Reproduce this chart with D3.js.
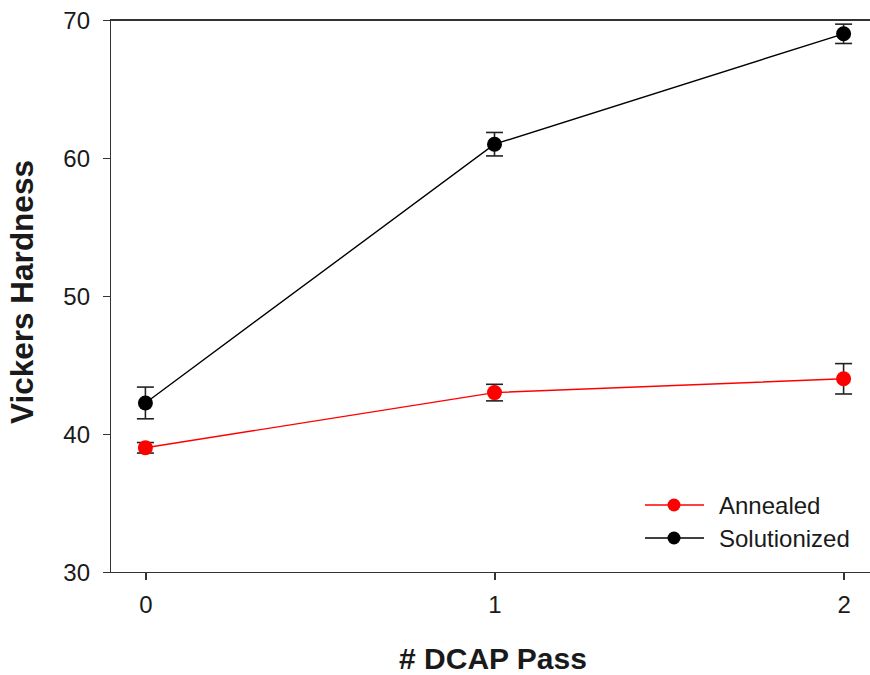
<!DOCTYPE html>
<html lang="en">
<head>
    <meta charset="UTF-8">
    <title>Vickers Hardness vs DCAP Pass</title>
    <script src="https://d3js.org/d3.v7.min.js"></script>
    <style>
        body { margin: 0; background: #fff; }
        text { font-family: "Liberation Sans", Arial, sans-serif; fill: #1a1a1a; }
        .axis path, .axis line { stroke: #333; stroke-width: 1.5px; shape-rendering: crispEdges; }
        .axis text { font-size: 24px; }
        .title { font-size: 30px; font-weight: bold; }
        .legend text { font-size: 24px; }
    </style>
</head>
<body>
<div id="chart"></div>
<script>
    // data
    var passes = [0, 1, 2];
    var seriesNames = ["Annealed", "Solutionized"];
    var annealedMean = [39.0, 43.0, 44.0];
    var annealedErr = [0.38, 0.6, 1.1];
    var solutionizedMean = [42.25, 61.0, 69.0];
    var solutionizedErr = [1.15, 0.85, 0.7];
    var xTicks = [0, 1, 2];
    var yTicks = [30, 40, 50, 60, 70];

    var W = 870, H = 675;
    var mLeft = 110, mTop = 20, mBottom = 572;

    var x = d3.scaleLinear().domain([-0.1, 2.1]).range([mLeft + 0.5, 878.5]);
    var y = d3.scaleLinear().domain([30, 70]).range([mBottom, mTop]);

    var clr = d3.scaleOrdinal().domain(seriesNames).range(["#ff0000", "#000000"]);

    var series = [
        { name: "Annealed", mean: annealedMean, err: annealedErr },
        { name: "Solutionized", mean: solutionizedMean, err: solutionizedErr }
    ].map(function (s) {
        return {
            name: s.name,
            values: passes.map(function (p, i) { return { pass: p, mean: s.mean[i], err: s.err[i] }; })
        };
    });

    var svg = d3.select("#chart").append("svg")
        .attr("width", W)
        .attr("height", H);

    // axes
    svg.append("g")
        .attr("class", "axis")
        .attr("transform", "translate(" + mLeft + ",0)")
        .call(d3.axisLeft(y).tickValues(yTicks).tickSize(7).tickSizeOuter(0).tickPadding(13))
        .selectAll("text").attr("dy", "0.36em");

    svg.append("g")
        .attr("class", "axis")
        .attr("transform", "translate(0," + mBottom + ")")
        .call(d3.axisBottom(x).tickValues(xTicks).tickSize(8).tickSizeOuter(0).tickPadding(16).tickFormat(d3.format("d")));

    // top frame line
    svg.append("line")
        .attr("x1", mLeft).attr("x2", x(2.1))
        .attr("y1", y(70)).attr("y2", y(70))
        .attr("stroke", "#333").attr("stroke-width", 1.5)
        .style("shape-rendering", "crispEdges");

    // titles
    svg.append("text")
        .attr("class", "title")
        .attr("x", 493).attr("y", 669)
        .attr("text-anchor", "middle")
        .text("# DCAP Pass");

    svg.append("text")
        .attr("class", "title")
        .attr("transform", "translate(33,292) rotate(-90)")
        .attr("text-anchor", "middle")
        .style("font-size", "31.5px")
        .text("Vickers Hardness");

    var line = d3.line()
        .x(function (d) { return x(d.pass); })
        .y(function (d) { return y(d.mean); });

    var g = svg.selectAll(".series")
        .data(series)
        .enter().append("g")
        .attr("class", "series");

    g.append("path")
        .attr("d", function (d) { return line(d.values); })
        .attr("fill", "none")
        .attr("stroke", function (d) { return clr(d.name); })
        .attr("stroke-width", 1.4);

    var capW = 8.5;
    var eb = g.selectAll(".err")
        .data(function (d) { return d.values; })
        .enter().append("g")
        .attr("class", "err")
        .attr("stroke", "#222")
        .attr("stroke-width", 1.6);

    eb.append("line")
        .attr("x1", function (d) { return x(d.pass); })
        .attr("x2", function (d) { return x(d.pass); })
        .attr("y1", function (d) { return y(d.mean + d.err); })
        .attr("y2", function (d) { return y(d.mean - d.err); });
    eb.append("line")
        .attr("x1", function (d) { return x(d.pass) - capW; })
        .attr("x2", function (d) { return x(d.pass) + capW; })
        .attr("y1", function (d) { return y(d.mean + d.err); })
        .attr("y2", function (d) { return y(d.mean + d.err); });
    eb.append("line")
        .attr("x1", function (d) { return x(d.pass) - capW; })
        .attr("x2", function (d) { return x(d.pass) + capW; })
        .attr("y1", function (d) { return y(d.mean - d.err); })
        .attr("y2", function (d) { return y(d.mean - d.err); });

    g.selectAll("circle")
        .data(function (d) { return d.values.map(function (v) { return { name: d.name, pass: v.pass, mean: v.mean }; }); })
        .enter().append("circle")
        .attr("cx", function (d) { return x(d.pass); })
        .attr("cy", function (d) { return y(d.mean); })
        .attr("r", 7.5)
        .attr("fill", function (d) { return clr(d.name); });

    // legend
    var legend = svg.selectAll(".legend")
        .data(seriesNames)
        .enter().append("g")
        .attr("class", "legend")
        .attr("transform", function (d, i) { return "translate(645," + (505 + i * 33) + ")"; });

    legend.append("line")
        .attr("x1", 0).attr("x2", 59)
        .attr("y1", 0).attr("y2", 0)
        .attr("stroke", function (d) { return clr(d); })
        .attr("stroke-width", 1.4);
    legend.append("circle")
        .attr("cx", 29).attr("cy", 0).attr("r", 6.5)
        .attr("fill", function (d) { return clr(d); });
    legend.append("text")
        .attr("x", 74).attr("y", 0)
        .attr("dy", "0.36em")
        .text(function (d) { return d; });
</script>
</body>
</html>
